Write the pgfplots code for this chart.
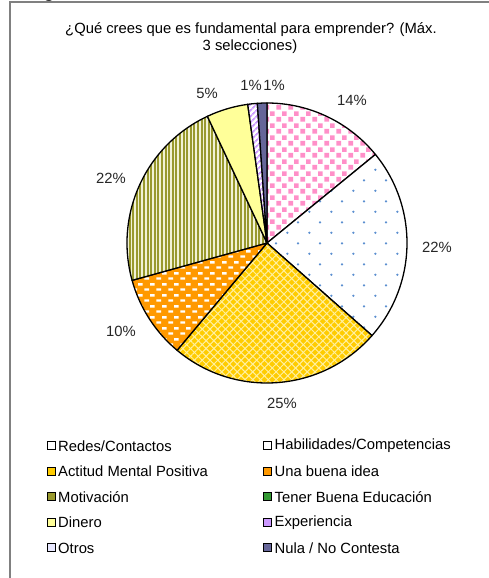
\documentclass[border=0pt]{standalone}
\usepackage{pgfplots}
\pgfplotsset{compat=1.18}
\usepackage{pgfplotstable}
\usepackage{fontspec}
\setmainfont{Liberation Sans}
\usetikzlibrary{patterns,patterns.meta}

\definecolor{pinkc}{HTML}{FF8FC8}
\definecolor{bluec}{HTML}{5B8FD0}
\definecolor{actc}{HTML}{FFCC00}
\definecolor{actl}{HTML}{FFF0A0}
\definecolor{orac}{HTML}{FF9900}
\definecolor{olic}{HTML}{99992E}
\definecolor{olil}{HTML}{F2F2D5}
\definecolor{dinc}{HTML}{FFFF99}
\definecolor{expc}{HTML}{CC99FF}
\definecolor{nulc}{HTML}{666699}
\definecolor{educ}{HTML}{339933}
\definecolor{otrc}{HTML}{E8E8FF}
\definecolor{framec}{HTML}{808080}

\pgfdeclarepatternformonly{pinksq}{\pgfpointorigin}{\pgfpoint{12pt}{12pt}}{\pgfpoint{12pt}{12pt}}{%
  \pgfpathrectangle{\pgfpoint{0.5pt}{0.5pt}}{\pgfpoint{5pt}{5pt}}%
  \pgfpathrectangle{\pgfpoint{6.5pt}{6.5pt}}{\pgfpoint{5pt}{5pt}}%
  \pgfusepath{fill}}
\pgfdeclarepatternformonly{bluedots}{\pgfpointorigin}{\pgfpoint{21.7pt}{21.4pt}}{\pgfpoint{21.7pt}{21.4pt}}{%
  \pgfpathcircle{\pgfpoint{5.4pt}{5.35pt}}{1.3pt}%
  \pgfpathcircle{\pgfpoint{16.25pt}{16.05pt}}{1.3pt}%
  \pgfusepath{fill}}
\pgfdeclarepatternformonly{oradash}{\pgfpointorigin}{\pgfpoint{12pt}{11pt}}{\pgfpoint{12pt}{11pt}}{%
  \pgfpathrectangle{\pgfpoint{0.5pt}{1.5pt}}{\pgfpoint{5pt}{2.5pt}}%
  \pgfpathrectangle{\pgfpoint{6.5pt}{7pt}}{\pgfpoint{5pt}{2.5pt}}%
  \pgfusepath{fill}}

\tikzset{
  slice0/.style={preaction={fill=white}, pattern=pinksq, pattern color=pinkc},
  slice1/.style={preaction={fill=white}, pattern=bluedots, pattern color=bluec},
  slice2/.style={preaction={fill=actc}, preaction={pattern={Lines[angle=45,distance=5.5pt,line width=1pt]}, pattern color=actl}, pattern={Lines[angle=-45,distance=5.5pt,line width=1pt]}, pattern color=actl},
  slice3/.style={preaction={fill=orac}, pattern=oradash, pattern color=white},
  slice4/.style={preaction={fill=olil}, pattern={Lines[angle=90,distance=3.6pt,line width=1.9pt]}, pattern color=olic},
  slice5/.style={fill=educ},
  slice6/.style={fill=dinc},
  slice7/.style={preaction={fill=white}, pattern={Lines[angle=45,distance=4pt,line width=1.8pt]}, pattern color=expc},
  slice8/.style={fill=otrc},
  slice9/.style={fill=nulc},
  leg0/.style={fill=white},
  leg1/.style={fill=white},
  leg2/.style={fill=actc},
  leg3/.style={fill=orac},
  leg4/.style={fill=olic},
  leg5/.style={fill=educ},
  leg6/.style={fill=dinc},
  leg7/.style={fill=expc},
  leg8/.style={fill=otrc},
  leg9/.style={fill=nulc},
}

\newcommand\lbfont{\fontsize{14.8}{17}\selectfont}

% value in percent; lx, ly = label position (1 unit = 1 pixel, y from bottom)
\pgfplotstableread[col sep=comma]{
name,value,lx,ly
Redes/Contactos,14.1,352,478
Habilidades/Competencias,22.4,437,331
Actitud Mental Positiva,24.6,282,175
Una buena idea,9.6,121,247
Motivación,22.3,111,400
Tener Buena Educación,0,0,0
Dinero,4.8,207,485
Experiencia,1.1,251,493
Otros,0,0,0
Nula / No Contesta,1.1,274,493
}\piedata

\begin{document}
\begin{tikzpicture}
\begin{axis}[
  at={(0,0)}, anchor=south west,
  scale only axis, width=488pt, height=578pt,
  xmin=0, xmax=488, ymin=0, ymax=578,
  hide axis, clip=false,
]
% cut-off text above the chart frame
\node[font=\bfseries\fontsize{18}{20}\selectfont, anchor=base, inner sep=0pt] at (axis cs:49,580.2) {g};
% frame
\draw[framec, line width=2pt] (axis cs:9.5,-20) -- (axis cs:9.5,576) -- (axis cs:520,576);
% title
\node[font=\lbfont, anchor=base] at (axis cs:251,544.5) {¿Qué crees que es fundamental para emprender? (Máx.};
\node[font=\lbfont, anchor=base] at (axis cs:250,527.5) {3 selecciones)};
% slices
\gdef\runangle{90}
\pgfplotsinvokeforeach{0,...,9}{%
  \pgfplotstablegetelem{#1}{value}\of\piedata \let\sv\pgfplotsretval
  \pgfplotstablegetelem{#1}{lx}\of\piedata \let\slx\pgfplotsretval
  \pgfplotstablegetelem{#1}{ly}\of\piedata \let\sly\pgfplotsretval
  \let\sa\runangle
  \pgfmathsetmacro\sb{\sa-3.6*\sv}%
  \xdef\runangle{\sb}%
  \ifdim\sv pt>0pt
    \pgfmathtruncatemacro\sr{round(\sv)}%
    \edef\tmp{%
      \noexpand\path[slice#1] (axis cs:267,335) -- ++(\sa:140pt) arc[start angle=\sa, end angle=\sb, radius=140pt] -- cycle;
      \noexpand\draw[line width=1.3pt, line join=round] (axis cs:267,335) -- ++(\sa:140pt) arc[start angle=\sa, end angle=\sb, radius=140pt] -- cycle;
      \noexpand\node[font=\noexpand\lbfont, text=black!85] at (axis cs:\slx,\sly) {\sr\noexpand\%};
    }%
    \tmp
  \fi
}
% legend
\pgfplotsinvokeforeach{0,...,9}{%
  \pgfplotstablegetelem{#1}{name}\of\piedata \let\sn\pgfplotsretval
  \pgfmathtruncatemacro\lrow{floor(#1/2)}%
  \pgfmathtruncatemacro\lcol{mod(#1,2)}%
  \pgfmathsetmacro\lly{578-(446+25.5*\lrow)}%
  \pgfmathsetmacro\lsx{\lcol==0 ? 51 : 267.5}%
  \pgfmathsetmacro\ltx{\lsx+7}%
  \pgfmathsetmacro\ra{\lsx-4}\pgfmathsetmacro\rb{\lsx+4}%
  \pgfmathsetmacro\rc{\lly-4}\pgfmathsetmacro\rd{\lly+4}%
  \edef\tmp{%
    \noexpand\draw[leg#1, line width=1pt] (axis cs:\ra,\rc) rectangle (axis cs:\rb,\rd);
    \noexpand\node[font=\noexpand\lbfont, anchor=west, inner sep=0pt] at (axis cs:\ltx,\lly) {\sn};
  }%
  \tmp
}
\end{axis}
\pgfresetboundingbox
\useasboundingbox (current axis.south west) rectangle (current axis.north east);
\end{tikzpicture}
\end{document}
